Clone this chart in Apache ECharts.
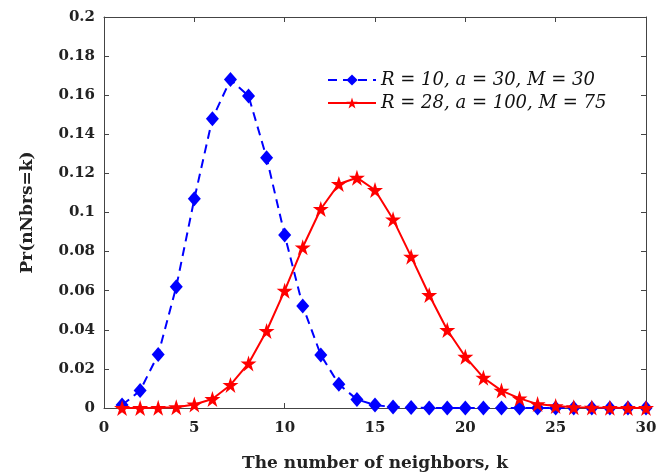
<!DOCTYPE html>
<html>
<head>
<meta charset="utf-8">
<script src="https://cdn.jsdelivr.net/npm/echarts@6/dist/echarts.min.js"></script>
<style>
  html, body { margin: 0; padding: 0; background: #fff; }
  #chart { width: 658px; height: 474px; }
</style>
</head>
<body>
<div id="chart"></div>
<script>
const kValues = [1, 2, 3, 4, 5, 6, 7, 8, 9, 10, 11, 12, 13, 14, 15,
  16, 17, 18, 19, 20, 21, 22, 23, 24, 25, 26, 27, 28, 29, 30];

// R = 10, a = 30, M = 30
const blueProb = [0.0015, 0.0089, 0.0274, 0.062, 0.107, 0.148, 0.168, 0.1596, 0.128, 0.0885,
  0.0522, 0.0271, 0.0121, 0.0044, 0.0015, 0.0005, 0.0002, 0, 0, 0,
  0, 0, 0, 0, 0, 0, 0, 0, 0, 0];

// R = 28, a = 100, M = 75
const redProb = [0, 0, 0.0001, 0.0004, 0.0018, 0.0046, 0.0118, 0.0228, 0.0394, 0.060,
  0.0822, 0.1018, 0.1146, 0.1178, 0.1115, 0.0965, 0.0774, 0.0578, 0.0399, 0.0262,
  0.0155, 0.0089, 0.0049, 0.002, 0.001, 0.0004, 0.0002, 0.0001, 0, 0];

const seriesNames = ["R = 10, a = 30, M = 30", "R = 28, a = 100, M = 75"];

const starPath = "path://M50,0 L61.8,36.2 L100,36.2 L69.1,58.8 L80.9,95.1 L50,72.4 L19.1,95.1 L30.9,58.8 L0,36.2 L38.2,36.2 Z";

const chart = echarts.init(document.getElementById("chart"));

const serif = "DejaVu Serif";

const tickFont = {
  fontFamily: serif,
  fontWeight: "bold",
  fontSize: 15,
  color: "#222",
};

const axisLine = { show: true, onZero: false, lineStyle: { color: "#444", width: 1 } };
const axisTick = { show: true, inside: true, length: 5, lineStyle: { color: "#444" } };

chart.setOption({
  animation: false,
  grid: { left: 104, right: 12, top: 17, bottom: 66, containLabel: false, outerBoundsMode: "none" },
  legend: {
    top: 66,
    left: 322,
    orient: "vertical",
    itemWidth: 48,
    itemHeight: 14,
    itemGap: 5,
    textStyle: {
      fontFamily: serif,
      fontStyle: "italic",
      fontSize: 18,
      color: "#111",
    },
    data: seriesNames,
  },
  xAxis: [
    {
      type: "value",
      min: 0,
      max: 30,
      interval: 5,
      name: "The number of neighbors, k",
      nameLocation: "middle",
      nameGap: 47,
      nameTextStyle: { fontFamily: serif, fontWeight: "bold", fontSize: 17, color: "#222" },
      axisLine: axisLine,
      axisTick: axisTick,
      axisLabel: Object.assign({ margin: 13 }, tickFont),
      splitLine: { show: false },
    },
    {
      type: "value",
      position: "top",
      min: 0,
      max: 30,
      interval: 5,
      axisLine: axisLine,
      axisTick: axisTick,
      axisLabel: { show: false },
      splitLine: { show: false },
    },
  ],
  yAxis: [
    {
      type: "value",
      min: 0,
      max: 0.2,
      interval: 0.02,
      name: "Pr(nNbrs=k)",
      nameLocation: "middle",
      nameGap: 68,
      nameTextStyle: { fontFamily: serif, fontWeight: "bold", fontSize: 17, color: "#222" },
      axisLine: axisLine,
      axisTick: axisTick,
      axisLabel: Object.assign({ margin: 9 }, tickFont),
      splitLine: { show: false },
    },
    {
      type: "value",
      position: "right",
      min: 0,
      max: 0.2,
      interval: 0.02,
      axisLine: axisLine,
      axisTick: axisTick,
      axisLabel: { show: false },
      splitLine: { show: false },
    },
  ],
  series: [
    {
      name: seriesNames[0],
      type: "line",
      data: kValues.map((k, i) => [k, blueProb[i]]),
      symbol: "diamond",
      symbolSize: [13, 15],
      lineStyle: { color: "#0000ff", width: 2, type: [9, 6] },
      itemStyle: { color: "#0000ff" },
      z: 3,
    },
    {
      name: seriesNames[1],
      type: "line",
      data: kValues.map((k, i) => [k, redProb[i]]),
      symbol: starPath,
      symbolSize: 16,
      lineStyle: { color: "#ff0000", width: 2 },
      itemStyle: { color: "#ff0000" },
      z: 4,
    },
  ],
});
</script>
</body>
</html>
